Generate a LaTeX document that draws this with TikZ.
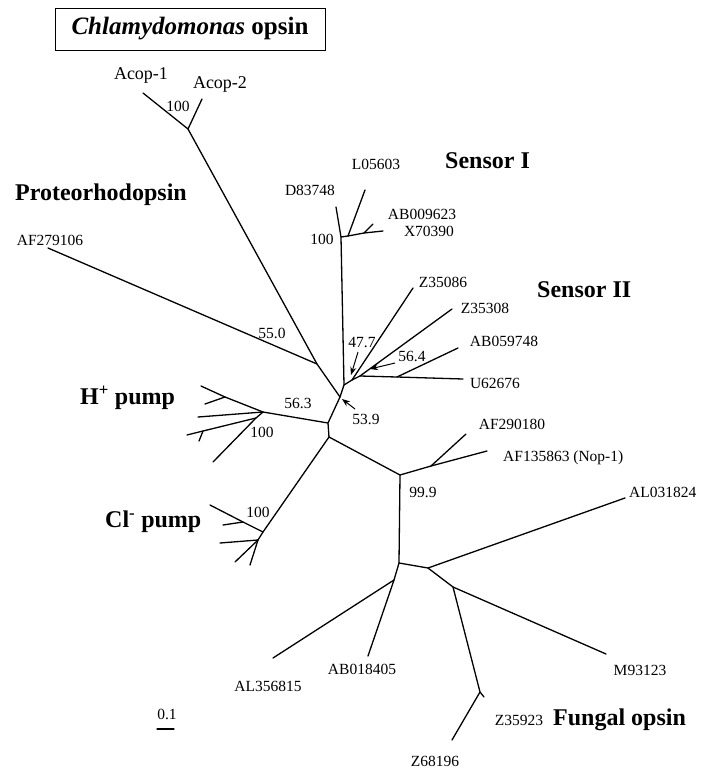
\documentclass[tikz,border=0pt]{standalone}
\usepackage{fontspec}
\setmainfont{Liberation Serif}
\usepackage{tikz}
\usetikzlibrary{arrows.meta}

\begin{document}
\begin{tikzpicture}[
  x=1pt, y=-1pt,
  br/.style={line width=1.3pt, line cap=round, line join=round},
  acc/.style={inner sep=0pt, font=\fontsize{15.5}{17}\selectfont},
  grp/.style={inner sep=0pt, anchor=west, font=\fontsize{24}{28}\selectfont\bfseries},
  ptr/.style={-{Stealth[length=8pt, width=6pt]}, line width=1pt},
]
\useasboundingbox (0,0) rectangle (702,769);

\node[draw, line width=0.9pt, minimum width=270pt, minimum height=42pt,
      font=\fontsize{25}{28}\selectfont\bfseries] (title) at (190,29) {\textit{Chlamydomonas} opsin};

% backbone
\coordinate (c1) at (340,397);
\coordinate (c2) at (328,423);
\coordinate (c3) at (329,437);
\coordinate (p) at (317,364);
\coordinate (acop) at (188,129);
\coordinate (acop1) at (143,93);
\coordinate (acop2) at (202,99);
\coordinate (af279) at (48,248);

% sensory rhodopsins
\coordinate (s) at (344,385);
\coordinate (si) at (341,237);
\coordinate (d83) at (336,207);
\coordinate (sia) at (348,236);
\coordinate (l05) at (365,190);
\coordinate (sib) at (364,233);
\coordinate (x70) at (383,231);
\coordinate (ab009) at (373,224);
\coordinate (sa) at (352,380);
\coordinate (z086) at (413,288);
\coordinate (sb) at (360,376);
\coordinate (z308) at (452,309);
\coordinate (sc) at (397,377);
\coordinate (u62) at (463,379);
\coordinate (ab059) at (458,348);

% pumps
\coordinate (h) at (263,412);
\coordinate (ha) at (225,397);
\coordinate (ht1) at (201,386);
\coordinate (ht2) at (205,404);
\coordinate (ht3) at (198,417);
\coordinate (hb) at (256,418);
\coordinate (hc) at (203,431);
\coordinate (ht4) at (187,435);
\coordinate (ht4b) at (199,441);
\coordinate (ht5) at (213,462);
\coordinate (cl) at (263,532);
\coordinate (cla) at (243,522);
\coordinate (clt1) at (210,505);
\coordinate (clt2) at (223,525);
\coordinate (clb) at (258,540);
\coordinate (clt3) at (220,543);
\coordinate (clt4) at (235,562);
\coordinate (clt5) at (250,565);

% fungal side
\coordinate (f1) at (400,475);
\coordinate (n) at (431,466);
\coordinate (af290) at (466,434);
\coordinate (af135) at (487,451);
\coordinate (f2) at (399,563);
\coordinate (f3) at (428,568);
\coordinate (al031) at (625,498);
\coordinate (f4) at (453,587);
\coordinate (m93) at (606,654);
\coordinate (z) at (480,692);
\coordinate (z359) at (484,697);
\coordinate (z681) at (452,740);
\coordinate (f5) at (394,580);
\coordinate (ab018) at (368,656);
\coordinate (al356) at (273,658);

\draw[br] (acop1) -- (acop) -- (acop2);
\draw[br] (acop) -- (p) -- (c1) -- (c2) -- (c3);
\draw[br] (af279) -- (p);
\draw[br] (c1) -- (s) -- (si) -- (d83);
\draw[br] (si) -- (sia) -- (l05);
\draw[br] (sia) -- (sib) -- (x70);
\draw[br] (sib) -- (ab009);
\draw[br] (s) -- (sa) -- (z086);
\draw[br] (sa) -- (sb) -- (z308);
\draw[br] (sb) -- (sc) -- (u62);
\draw[br] (sc) -- (ab059);
\draw[br] (c2) -- (h) -- (ha) -- (ht1);
\draw[br] (ha) -- (ht2);
\draw[br] (h) -- (ht3);
\draw[br] (h) -- (hb) -- (hc) -- (ht4);
\draw[br] (hc) -- (ht4b);
\draw[br] (hb) -- (ht5);
\draw[br] (c3) -- (cl) -- (cla) -- (clt1);
\draw[br] (cla) -- (clt2);
\draw[br] (cl) -- (clb) -- (clt3);
\draw[br] (clb) -- (clt4);
\draw[br] (clb) -- (clt5);
\draw[br] (c3) -- (f1) -- (n) -- (af290);
\draw[br] (n) -- (af135);
\draw[br] (f1) -- (f2) -- (f3) -- (al031);
\draw[br] (f3) -- (f4) -- (m93);
\draw[br] (f4) -- (z) -- (z681);
\draw[br] (z) -- (z359);
\draw[br] (f2) -- (f5) -- (ab018);
\draw[br] (f5) -- (al356);

% tip labels
\node[acc, font=\fontsize{18}{20}\selectfont] (lacop1) at (141,75) {Acop-1};
\node[acc, font=\fontsize{18}{20}\selectfont] (lacop2) at (220,84) {Acop-2};
\node[acc] (laf279) at (50,240) {AF279106};
\node[acc] (ld83) at (310,190) {D83748};
\node[acc] (ll05) at (376,164) {L05603};
\node[acc] (lab009) at (422,214) {AB009623};
\node[acc] (lx70) at (429,231) {X70390};
\node[acc] (lz086) at (443,282) {Z35086};
\node[acc] (lz308) at (485,308) {Z35308};
\node[acc] (lab059) at (504,341) {AB059748};
\node[acc] (lu62) at (495,383) {U62676};
\node[acc] (laf290) at (512,424) {AF290180};
\node[acc, anchor=west] (laf135) at (503,458) {AF135863 (Nop-1)};
\node[acc, anchor=west] (lal031) at (629,492) {AL031824};
\node[acc] (lm93) at (640,670) {M93123};
\node[acc] (lz359) at (519,720) {Z35923};
\node[acc] (lz681) at (435,761) {Z68196};
\node[acc] (lab018) at (362,669) {AB018405};
\node[acc] (lal356) at (268,686) {AL356815};

% group names
\node[grp] (gprot) at (15,195) {Proteorhodopsin};
\node[grp] (gsi) at (445,161) {Sensor I};
\node[grp] (gsii) at (537,290) {Sensor II};
\node[grp] (ghp) at (80,398) {H\textsuperscript{+} pump};
\node[grp] (gclp) at (105,522) {Cl\textsuperscript{-} pump};
\node[grp] (gfun) at (553,720) {Fungal opsin};

% support values
\node[acc] (bacop) at (178,106) {100};
\node[acc] (bsi) at (322,239) {100};
\node[acc] (b550) at (272,333) {55.0};
\node[acc] (b563) at (298,403) {56.3};
\node[acc] (bh) at (262,432) {100};
\node[acc] (bcl) at (258,512) {100};
\node[acc] (b999) at (423,492) {99.9};
\node[acc] (b477) at (362,343) {47.7};
\node[acc] (b564) at (412,356) {56.4};
\node[acc] (b539) at (366,419) {53.9};

\coordinate (t477) at (358,352);
\coordinate (h477) at (351,375);
\coordinate (t564) at (395,363);
\coordinate (h564) at (370,369);
\coordinate (t539) at (355,409);
\coordinate (h539) at (342,399);
\draw[ptr] (t477) -- (h477);
\draw[ptr] (t564) -- (h564);
\draw[ptr] (t539) -- (h539);

% scale bar
\node[acc] (lscale) at (167,714) {0.1};
\coordinate (sbl) at (157,729);
\coordinate (sbr) at (174,729);
\draw[br] (sbl) -- (sbr);
\end{tikzpicture}
\end{document}
